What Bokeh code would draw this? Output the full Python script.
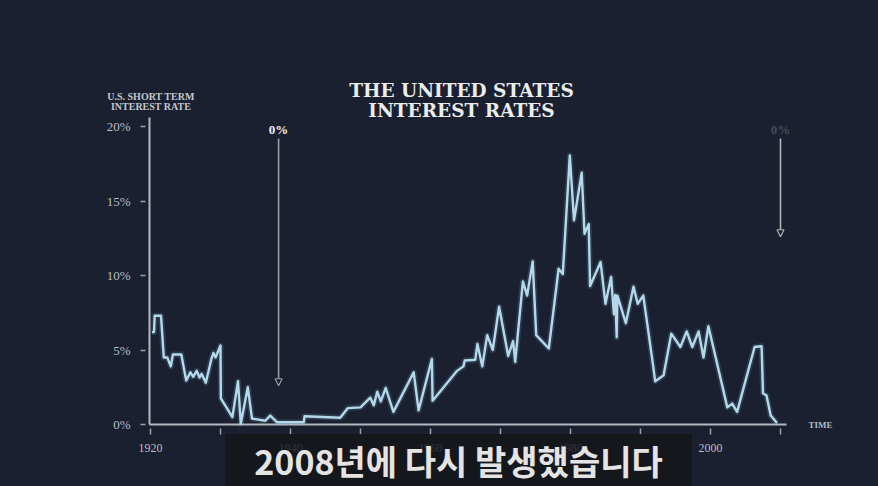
from bokeh.plotting import figure
from bokeh.models import Range1d, FixedTicker, Label, Arrow, NormalHead
from bokeh.embed import file_html
from bokeh.resources import INLINE
from bokeh.core.properties import value

# ---------------- data ----------------
years = [1920.2, 1920.5, 1920.6, 1921.5, 1921.9, 1922.4, 1922.9, 1923.2, 1924.4, 1925.1,
         1925.7, 1926.1, 1926.6, 1927.0, 1927.3, 1927.9, 1928.7, 1929.0, 1929.3, 1930.0,
         1930.05, 1931.7, 1932.5, 1932.9, 1933.9, 1934.5, 1936.4, 1937.1, 1938.1, 1941.9,
         1942.0, 1947.1, 1948.2, 1950.0, 1951.4, 1951.9, 1952.4, 1952.9, 1953.6, 1954.7,
         1957.6, 1958.3, 1960.2, 1960.3, 1963.8, 1964.7, 1964.9, 1966.4, 1966.7, 1967.4,
         1968.1, 1968.9, 1969.8, 1971.1, 1971.8, 1972.1, 1973.2, 1973.8, 1974.6, 1975.1,
         1976.9, 1978.3, 1978.9, 1979.9, 1980.5, 1981.6, 1982.0, 1982.6, 1982.8, 1984.3,
         1985.0, 1985.8, 1986.2, 1986.4, 1986.6, 1986.7, 1987.9, 1989.0, 1989.6, 1990.4,
         1991.8, 1992.1, 1993.3, 1994.4, 1995.7, 1996.6, 1997.4, 1998.3, 1999.0, 1999.7,
         2002.4, 2003.1, 2003.8, 2006.3, 2007.3, 2007.5, 2008.0, 2008.6, 2009.5]
rates = [6.2, 6.2, 7.3, 7.3, 4.5, 4.5, 3.9, 4.7, 4.7, 2.95,
         3.5, 3.2, 3.6, 3.15, 3.4, 2.8, 4.4, 4.8, 4.5, 5.3,
         1.75, 0.5, 2.9, 0.05, 2.5, 0.4, 0.25, 0.6, 0.15, 0.15,
         0.55, 0.45, 1.1, 1.15, 1.8, 1.3, 2.2, 1.55, 2.45, 0.85,
         3.5, 0.95, 4.4, 1.6, 3.6, 3.9, 4.3, 4.35, 5.4, 3.9,
         6.0, 5.0, 7.9, 4.6, 5.6, 4.2, 9.6, 8.65, 10.95, 6.0,
         5.1, 10.45, 10.1, 18.05, 13.7, 16.9, 12.8, 13.45, 9.3, 10.9,
         8.1, 9.9, 7.4, 8.7, 5.85, 8.65, 6.8, 9.25, 8.1, 8.65,
         3.95, 2.9, 3.3, 6.1, 5.2, 6.25, 5.2, 6.25, 4.5, 6.6,
         1.15, 1.4, 0.85, 5.2, 5.25, 2.1, 1.95, 0.6, 0.1]
assert len(years) == len(rates)

x_ticks = [1920, 1930, 1940, 1950, 1960, 1970, 1980, 1990, 2000, 2010]
x_tick_labels = ["1920", "", "1940", "", "1960", "", "1980", "", "2000", ""]
y_ticks = [0, 5, 10, 15, 20]
y_tick_labels = ["0%", "5%", "10%", "15%", "20%"]

zero_years = [1938.3, 2010.0]          # where the "0%" arrows stand
zero_arrow_ends = [2.6, 12.6]          # arrow tips (rate units)
zero_label_alpha = [1.0, 0.22]

title_lines = ["THE UNITED STATES", "INTEREST RATES"]
ylabel_lines = ["U.S. SHORT TERM", "INTEREST RATE"]
subtitle = "2008년에 다시 발생했습니다"

# ---------------- layout (page has no margin: canvas = window) ----------------
BG = "#1a2030"
W, H = 878, 486
FL, FT = 145, 60                         # frame left / top edges
PX_YEAR, YEAR0_PX = 7.0, 150             # 1920 sits at x=150
PX_PCT, ZERO_PX = 14.9, 424              # 0% sits at y=424

X0 = 1920 - (YEAR0_PX - FL) / PX_YEAR
X1 = 1920 + (W - YEAR0_PX) / PX_YEAR
Y0 = -(H - ZERO_PX) / PX_PCT
Y1 = (ZERO_PX - FT) / PX_PCT


def dx(px):
    return 1920 + (px - YEAR0_PX) / PX_YEAR


def dy(py):
    return (ZERO_PX - py) / PX_PCT


p = figure(width=W, height=H, x_range=Range1d(X0, X1), y_range=Range1d(Y0, Y1),
           output_backend="svg", toolbar_location=None, x_axis_location=None,
           min_border_left=FL, min_border_right=0, min_border_top=FT, min_border_bottom=0,
           background_fill_color=BG, border_fill_color=BG, outline_line_color=None)
p.title.visible = False
p.grid.visible = False

SERIF = "Liberation Serif"
TITLE_FONT = "DejaVu Serif"
TICK_C = "#9aa0a8"
LAB_C = "#b9bec6"
AXIS_C = "#b4b9c0"

# y axis (library axis; its own line hidden, a detached line is drawn below)
yax = p.yaxis[0]
yax.ticker = FixedTicker(ticks=y_ticks)
yax.major_label_overrides = {t: l for t, l in zip(y_ticks, y_tick_labels)}
yax.axis_line_color = None
yax.major_tick_in = 0
yax.major_tick_out = 5
yax.minor_tick_line_color = None
yax.major_tick_line_color = TICK_C
yax.major_tick_line_width = 1.5
yax.major_label_text_font = SERIF
yax.major_label_text_font_size = "13px"
yax.major_label_text_color = LAB_C
yax.major_label_standoff = 10

# axis lines
AX_X = dx(149)
p.segment(x0=[AX_X, AX_X], y0=[0, 0], x1=[AX_X, dx(786)], y1=[dy(117), 0],
          line_color=AXIS_C, line_width=2)

# x ticks and labels (drawn on the x scale)
p.segment(x0=x_ticks, y0=[dy(428)] * len(x_ticks), x1=x_ticks, y1=[dy(434)] * len(x_ticks),
          line_color=TICK_C, line_width=1.5)
inner = [(t, l) for t, l in zip(x_ticks, x_tick_labels) if t > x_ticks[0]]
p.text(x=[t for t, _ in inner], y=[dy(447)] * len(inner), text=[l for _, l in inner],
       text_align="center", text_baseline="middle", text_font=value(SERIF),
       text_font_size="12px", text_color=LAB_C)
# the first label straddles the frame's left edge: put it in the left panel
p.add_layout(Label(x=x_ticks[0], y=dy(447), text=x_tick_labels[0], text_align="center",
                   text_baseline="middle", text_font=SERIF, text_font_size="12px",
                   text_color=LAB_C), "left")

# data line with a faint glow
p.line(years, rates, line_color="#7fb2d1", line_width=6, line_alpha=0.18, line_join="round")
p.line(years, rates, line_color="#b5d9ea", line_width=2.4, line_join="round")

# arrows marking 0%
for i, (xa, ye, la) in enumerate(zip(zero_years, zero_arrow_ends, zero_label_alpha)):
    c = "#9a9ea4" if i == 0 else "#b0b4b8"
    p.add_layout(Arrow(end=NormalHead(size=7, fill_color=BG, line_color=c, line_width=1.2),
                       x_start=xa, y_start=dy(138), x_end=xa, y_end=ye,
                       line_color=c, line_width=1.6))
    p.add_layout(Label(x=xa, y=dy(129), text="0%", text_align="center", text_baseline="middle",
                       text_font=SERIF, text_font_style="bold", text_font_size="13px",
                       text_color="#f0f0f0", text_alpha=la))

# title
for i, t in enumerate(title_lines):
    p.add_layout(Label(x=dx(461), y=dy(90 + 20 * i), text=t, text_align="center",
                       text_baseline="middle", text_font=TITLE_FONT, text_font_style="bold",
                       text_font_size="18.5px", text_color="#ececec"))
# y-axis title (crosses the frame's left edge, so it lives in the top panel)
for i, t in enumerate(ylabel_lines):
    p.add_layout(Label(x=dx(150.5), y=dy(96 + 10 * i), text=t, text_align="center",
                       text_baseline="middle", text_font=SERIF, text_font_style="bold",
                       text_font_size="10px", text_color="#c4c8ce"), "above")
# x-axis title
p.add_layout(Label(x=dx(808), y=dy(424), text="TIME", text_align="left",
                   text_baseline="middle", text_font=SERIF, text_font_style="bold",
                   text_font_size="9px", text_color=AXIS_C))

# subtitle caption box
p.add_layout(Label(x=dx(458), y=dy(460), text=subtitle, text_align="center",
                   text_baseline="middle", text_font="Noto Sans CJK KR",
                   text_font_style="bold", text_font_size="34px", text_color="#e4e4e4",
                   background_fill_color="#141618", background_fill_alpha=0.82,
                   padding=(29, 2), level="overlay"))

tmpl = """{% block postamble %}<style>html, body { margin: 0; padding: 0; overflow: hidden; background: #1a2030; }</style>{% endblock %}"""
open("out.html", "w").write(file_html(p, INLINE, template=tmpl))
